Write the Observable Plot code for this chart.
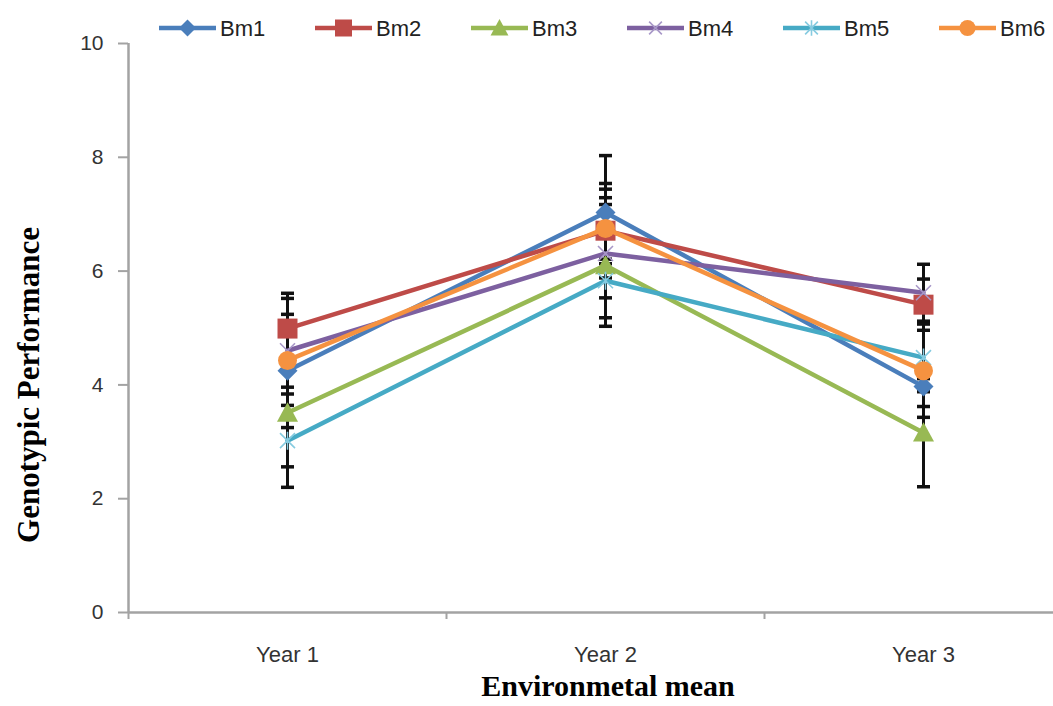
<!DOCTYPE html>
<html><head><meta charset="utf-8">
<script src="https://cdn.jsdelivr.net/npm/d3@7"></script>
<script src="https://cdn.jsdelivr.net/npm/@observablehq/plot@0.6"></script>
<style>
body{margin:0;background:#fff;}
#wrap{position:relative;width:1053px;height:706px;overflow:hidden;background:#fff;}
#chart svg{position:absolute;left:0;top:0;}
#legend{position:absolute;left:0;top:0;}
.ytitle{position:absolute;left:28px;top:385px;transform:translate(-50%,-50%) rotate(-90deg);font:bold 31px "Liberation Serif","Times New Roman",serif;white-space:nowrap;color:#000;line-height:31px;}
.xtitle{position:absolute;left:608px;top:671px;transform:translateX(-50%);font:bold 30px "Liberation Serif","Times New Roman",serif;white-space:nowrap;color:#000;line-height:30px;}
</style></head>
<body>
<div id="wrap">
  <div id="chart"></div>
  <div id="legend"></div>
  <div class="ytitle">Genotypic Performance</div>
  <div class="xtitle">Environmetal mean</div>
</div>
<script>
// ---- data ----
const years = ["Year 1", "Year 2", "Year 3"];
const seriesNames = ["Bm1", "Bm2", "Bm3", "Bm4", "Bm5", "Bm6"];
const bm1 = [4.25, 7.03, 3.97];
const bm2 = [4.99, 6.71, 5.41];
const bm3 = [3.51, 6.10, 3.16];
const bm4 = [4.60, 6.31, 5.62];
const bm5 = [3.02, 5.83, 4.48];
const bm6 = [4.43, 6.75, 4.25];
const err1 = [0.61, 1.00, 0.35];
const err2 = [0.53, 0.83, 0.45];
const err3 = [0.95, 1.07, 0.95];
const err4 = [0.64, 1.13, 0.50];
const err5 = [0.82, 0.30, 0.60];
const err6 = [1.18, 0.54, 0.82];
const yTicks = [0, 2, 4, 6, 8, 10];
const colors = ["#4a7ebb", "#be4b48", "#98b954", "#7d60a0", "#46aac5", "#f59240"];

const values = [bm1, bm2, bm3, bm4, bm5, bm6];
const errors = [err1, err2, err3, err4, err5, err6];

// ---- custom symbols ----
const R = s => Math.sqrt(s / Math.PI);
const diamondSym = {draw(c, s){const r = R(s); c.moveTo(0,-r); c.lineTo(r,0); c.lineTo(0,r); c.lineTo(-r,0); c.closePath();}};
const squareSym = {draw(c, s){const r = R(s); c.moveTo(-r,-r); c.lineTo(r,-r); c.lineTo(r,r); c.lineTo(-r,r); c.closePath();}};
const triSym = {draw(c, s){const r = R(s); c.moveTo(0,-r); c.lineTo(r,0.85*r); c.lineTo(-r,0.85*r); c.closePath();}};
const timesSym = {draw(c, s){const r = R(s)*0.75; c.moveTo(-r,-r); c.lineTo(r,r); c.moveTo(r,-r); c.lineTo(-r,r);}};
const starSym = {draw(c, s){const r = R(s)*0.75; c.moveTo(-r,-r); c.lineTo(r,r); c.moveTo(r,-r); c.lineTo(-r,r); c.moveTo(0,-r*1.2); c.lineTo(0,r*1.2);}};
const circleSym = {draw(c, s){const r = R(s); c.moveTo(r,0); c.arc(0,0,r,0,2*Math.PI);}};
const capSym = {draw(c, s){const r = R(s); c.moveTo(-r,0); c.lineTo(r,0);}};

const markers = [
  {sym: diamondSym, r: 10, filled: true},
  {sym: squareSym, r: 10, filled: true},
  {sym: triSym, r: 10.5, filled: true},
  {sym: timesSym, r: 10, filled: false, stroke: "#a898c8"},
  {sym: starSym, r: 10, filled: false, stroke: "#86cbe0"},
  {sym: circleSym, r: 9.5, filled: true}
];

const rows = [];
seriesNames.forEach((name, si) => {
  years.forEach((yr, yi) => {
    rows.push({series: name, si, xi: yi + 0.5, v: values[si][yi], e: errors[si][yi]});
  });
});
const caps = rows.flatMap(d => [{xi: d.xi, y: d.v - d.e}, {xi: d.xi, y: d.v + d.e}]);

const gray = "#a3a3a3";
const marks = [
  Plot.ruleY([0], {stroke: gray, strokeWidth: 2.5}),
  Plot.ruleX([0], {y1: 0, y2: 10, stroke: gray, strokeWidth: 2.5}),
  Plot.axisY({ticks: yTicks, tickSize: 10, tickPadding: 15, stroke: gray, strokeWidth: 2, label: null, tickFormat: d => String(d)}),
  Plot.axisX({ticks: [0, 1, 2, 3], tickSize: 7, tickFormat: () => "", stroke: gray, strokeWidth: 2, label: null}),
  Plot.axisX({ticks: [0.5, 1.5, 2.5], tickSize: 0, tickPadding: 34, fontSize: 22, tickFormat: d => years[Math.floor(d)], label: null}),
  Plot.ruleX(rows, {x: "xi", y1: d => d.v - d.e, y2: d => d.v + d.e, stroke: "#111", strokeWidth: 3}),
  Plot.dot(caps, {x: "xi", y: "y", symbol: capSym, r: 6.5, stroke: "#111", strokeWidth: 3.5})
];
seriesNames.forEach((name, si) => {
  const data = rows.filter(d => d.si === si);
  const m = markers[si];
  marks.push(Plot.line(data, {x: "xi", y: "v", stroke: colors[si], strokeWidth: 4.5, strokeLinejoin: "round", strokeLinecap: "round"}));
  if (m.filled) {
    marks.push(Plot.dot(data, {x: "xi", y: "v", symbol: m.sym, r: m.r, fill: colors[si], stroke: "none"}));
  } else {
    marks.push(Plot.dot(data, {x: "xi", y: "v", symbol: m.sym, r: m.r, fill: "none", stroke: m.stroke, strokeWidth: 1.6}));
  }
});

const chart = Plot.plot({
  width: 1053,
  height: 706,
  marginLeft: 128,
  marginTop: 43,
  marginBottom: 94,
  marginRight: 0,
  style: {fontFamily: '"Liberation Sans", Arial, sans-serif', fontSize: "21px", color: "#333", background: "#fff", overflow: "visible"},
  x: {type: "linear", domain: [0, 3], range: [128, 1082]},
  y: {domain: [0, 10]},
  marks
});
document.getElementById("chart").appendChild(chart);

// ---- legend ----
const leg = d3.select("#legend").append("svg").attr("width", 1053).attr("height", 45);
seriesNames.forEach((name, si) => {
  const g = leg.append("g").attr("transform", `translate(${159 + 156 * si},28)`);
  g.append("line").attr("x1", 0).attr("x2", 57).attr("y1", 0).attr("y2", 0)
    .attr("stroke", colors[si]).attr("stroke-width", 4.5);
  const m = markers[si];
  const p = d3.path();
  const size = Math.PI * (m.r * 0.85) ** 2;
  m.sym.draw(p, size);
  const path = g.append("path").attr("d", p.toString()).attr("transform", "translate(28.5,0)");
  if (m.filled) path.attr("fill", colors[si]);
  else path.attr("fill", "none").attr("stroke", m.stroke).attr("stroke-width", 1.6);
  g.append("text").attr("x", 61).attr("y", 0).attr("dy", "0.35em")
    .attr("font-family", '"Liberation Sans", Arial, sans-serif').attr("font-size", 22)
    .attr("fill", "#222").text(name);
});
</script>
</body></html>
